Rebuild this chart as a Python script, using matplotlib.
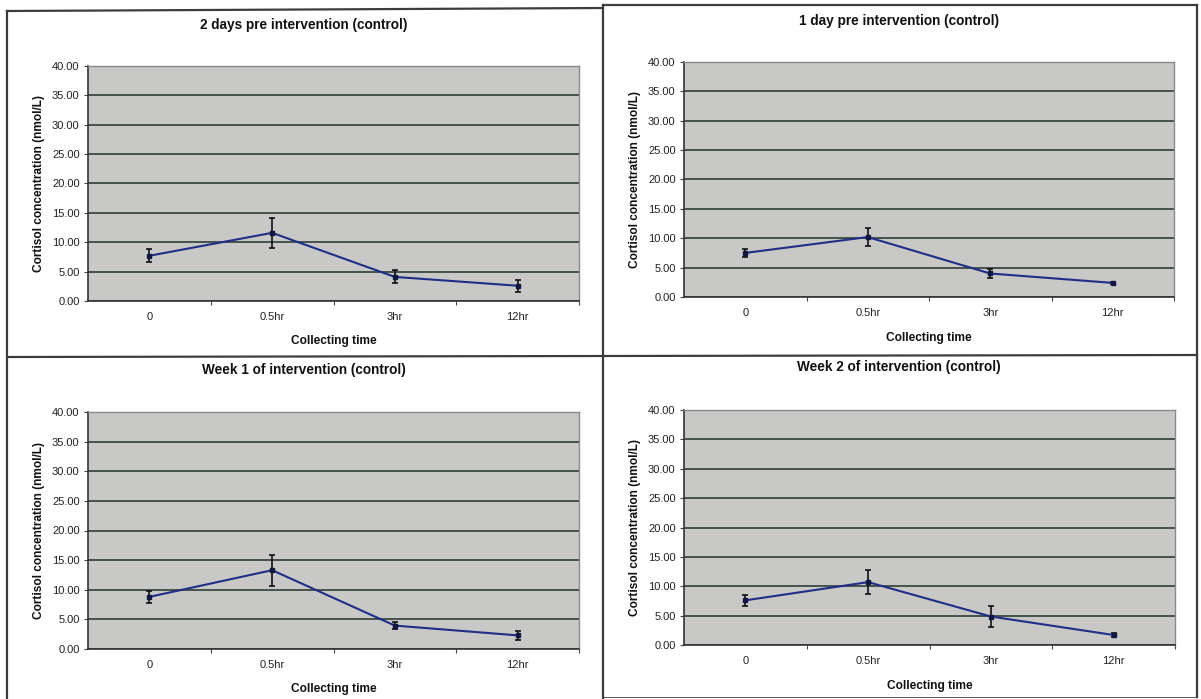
import matplotlib
matplotlib.use("Agg")
import matplotlib.pyplot as plt
from matplotlib.lines import Line2D

plt.rcParams['font.family'] = ['Liberation Sans', 'DejaVu Sans']

categories = ['0', '0.5hr', '3hr', '12hr']
yticks = [0, 5, 10, 15, 20, 25, 30, 35, 40]

titles = ['2 days pre intervention (control)',
          '1 day pre intervention (control)',
          'Week 1 of intervention (control)',
          'Week 2 of intervention (control)']

mean_2days = [7.7, 11.6, 4.1, 2.6]
err_2days = [1.1, 2.5, 1.1, 1.0]
mean_1day = [7.5, 10.2, 4.0, 2.4]
err_1day = [0.7, 1.5, 0.85, 0.15]
mean_week1 = [8.8, 13.3, 3.95, 2.3]
err_week1 = [1.0, 2.6, 0.55, 0.7]
mean_week2 = [7.6, 10.7, 4.85, 1.7]
err_week2 = [0.95, 2.1, 1.8, 0.3]

means = [mean_2days, mean_1day, mean_week1, mean_week2]
errs = [err_2days, err_1day, err_week1, err_week2]

W, H = 1201, 699
fig = plt.figure(figsize=(W / 100, H / 100), dpi=100)

# plot-area rectangles in pixels: (left, top, right, bottom)
rects = [(88, 66, 579, 301), (684, 62, 1174, 297),
         (88, 412, 579, 649), (684, 410, 1175, 645)]
title_y = [33, 29, 378, 375]
title_x = [304, 899, 304, 899]
xlabel_y = [335, 332, 683, 680]
ylabel_x = [45, 641, 45, 641]

def fx(x):
    return x / W

def fy(y):
    return 1 - y / H

line_col = '#1f2e86'
grid_col = '#2f3e36'

for i, (l, t, r, b) in enumerate(rects):
    ax = fig.add_axes([fx(l), fy(b), (r - l) / W, (b - t) / H])
    ax.set_facecolor('#c8c9c7')
    x = list(range(len(categories)))
    ax.errorbar(x, means[i], yerr=errs[i], color=line_col, lw=1.5,
                ecolor='#111111', elinewidth=1.2, capsize=2.5, capthick=1.2,
                marker='s', markersize=2.5, markerfacecolor='#101840',
                markeredgecolor='#101840', zorder=5)
    ax.set_xlim(-0.5, len(categories) - 0.5)
    ax.set_ylim(0, 40)
    ax.set_yticks(yticks)
    ax.set_yticklabels([f'{v:.2f}' for v in yticks], fontsize=8, color='#222222')
    ax.set_xticks(x)
    ax.set_xticklabels(categories, fontsize=8, color='#222222')
    ax.set_xticks([0.5, 1.5, 2.5, 3.5], minor=True)
    ax.tick_params(axis='x', which='major', length=0, pad=8)
    ax.tick_params(axis='x', which='minor', length=3, width=0.8, color='#444444')
    ax.tick_params(axis='y', length=3, width=0.8, color='#444444', pad=3)
    ax.yaxis.grid(True, color=grid_col, lw=1.2)
    ax.set_axisbelow(True)
    for s in ['left', 'bottom']:
        ax.spines[s].set_color('#333333')
        ax.spines[s].set_linewidth(1.2)
    for s in ['top', 'right']:
        ax.spines[s].set_color('#8a8a8a')
        ax.spines[s].set_linewidth(1.0)
    ax.set_ylabel('Cortisol concentration (nmol/L)', fontsize=8.6,
                  fontweight='bold', color='#111111')
    ax.yaxis.set_label_coords((ylabel_x[i] - l) / (r - l), 0.5)
    ax.set_xlabel('Collecting time', fontsize=8.6, fontweight='bold', color='#111111')
    ax.xaxis.set_label_coords(0.5, -(xlabel_y[i] - b) / (b - t))
    ax.set_title(titles[i], fontsize=9.8, fontweight='bold', color='#111111',
                 x=(title_x[i] - l) / (r - l), y=(b - title_y[i]) / (b - t), va='center')

# panel borders
bc = '#3c3c3c'
def seg(x0, y0, x1, y1, lw=1.6):
    fig.add_artist(Line2D([fx(x0), fx(x1)], [fy(y0), fy(y1)], color=bc, lw=lw))

seg(7, 11, 603, 8)
seg(603, 5, 1197, 5)
seg(7, 11, 7, 699)
seg(603, 5, 603, 699)
seg(1197, 5, 1197, 697)
seg(7, 357, 1197, 355)
seg(603, 697, 1197, 697, lw=0.6)

fig.savefig('out.png', dpi=100, facecolor='white')
